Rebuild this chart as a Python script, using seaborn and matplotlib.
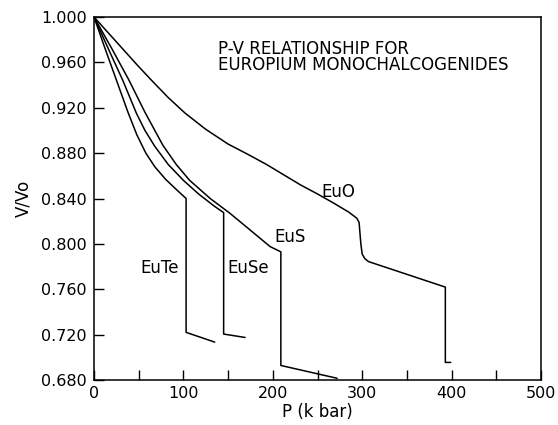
import matplotlib
matplotlib.use("Agg")
import matplotlib.pyplot as plt
from matplotlib.ticker import MultipleLocator, FormatStrFormatter
import numpy as np
import pandas as pd
import seaborn as sns

# Compression curves V/V0 versus pressure (kbar) for the europium monochalcogenides
eute_p = [0, 12, 25, 38, 48, 58, 68, 80, 92, 103, 103, 135]
eute_v = [1.000, 0.973, 0.9445, 0.916, 0.896, 0.880, 0.868, 0.857, 0.848, 0.840, 0.722, 0.7134]

euse_p = [0, 16, 32, 47.5, 57, 68, 83, 100, 117, 135, 145, 145, 169]
euse_v = [1.000, 0.972, 0.9445, 0.915, 0.900, 0.886, 0.870, 0.856, 0.844, 0.833, 0.8276, 0.7205, 0.7175]

eus_p = [0, 20, 39, 57, 77, 92, 107, 130, 152, 175, 197, 209, 209, 272]
eus_v = [1.000, 0.972, 0.9445, 0.916, 0.887, 0.870, 0.856, 0.840, 0.827, 0.812, 0.7976, 0.793, 0.6928, 0.6815]

euo_p = [0, 16, 32, 48, 64, 83, 102, 125, 150, 172, 193, 212, 231, 250, 268, 285, 294,
         296.5, 298.5, 300, 303, 307, 393, 393, 399]
euo_v = [1.000, 0.986, 0.972, 0.958, 0.9445, 0.929, 0.9152, 0.901, 0.888, 0.879, 0.870, 0.861,
         0.852, 0.844, 0.836, 0.828, 0.8226, 0.819, 0.800, 0.791, 0.787, 0.7844, 0.7619, 0.6955, 0.6955]

compounds = ["EuTe", "EuSe", "EuS", "EuO"]
label_pos = {"EuTe": (73.5, 0.779), "EuSe": (172.5, 0.779), "EuS": (219.5, 0.806), "EuO": (273.5, 0.846)}

y_ticks = [0.680, 0.720, 0.760, 0.800, 0.840, 0.880, 0.920, 0.960, 1.000]
x_ticks = [0, 100, 200, 300, 400, 500]

frames = []
for name, p, v in zip(compounds, [eute_p, euse_p, eus_p, euo_p], [eute_v, euse_v, eus_v, euo_v]):
    frames.append(pd.DataFrame({"P": p, "V": v, "compound": name, "order": np.arange(len(p))}))
df = pd.concat(frames, ignore_index=True)

sns.set_style("ticks")
plt.rcParams["font.family"] = ["DejaVu Sans"]
plt.rcParams["text.color"] = "black"
plt.rcParams["axes.labelcolor"] = "black"

fig = plt.figure(figsize=(5.58, 4.25), dpi=100)
ax = fig.add_axes([0.1685, 0.1059, 0.801, 0.854])

sns.lineplot(data=df, x="P", y="V", hue="compound", units="compound", estimator=None,
             sort=False, palette=["black"] * 4, linewidth=1.1, legend=False, ax=ax)

ax.set_xlim(0, 500)
ax.set_ylim(0.680, 1.000)
ax.set_xticks(x_ticks)
ax.xaxis.set_minor_locator(MultipleLocator(50))
ax.set_yticks(y_ticks)
ax.yaxis.set_major_formatter(FormatStrFormatter("%.3f"))

ax.tick_params(axis="both", which="both", direction="in", length=7, width=1.0,
               labelsize=11.5, colors="black", top=False, right=False)
ax.tick_params(axis="y", pad=5)
ax.tick_params(axis="x", pad=4)

for side in ["top", "right", "bottom", "left"]:
    ax.spines[side].set_visible(True)
    ax.spines[side].set_linewidth(1.1)
    ax.spines[side].set_color("black")

ax.set_xlabel("P (k bar)", fontsize=12, labelpad=2)
ax.set_ylabel("V/Vo", fontsize=12, labelpad=6)

for name in compounds:
    x, y = label_pos[name]
    ax.text(x, y, name, fontsize=12, ha="center", va="center")

ax.text(139, 0.972, "P-V RELATIONSHIP FOR", fontsize=12, ha="left", va="center")
ax.text(139, 0.9575, "EUROPIUM MONOCHALCOGENIDES", fontsize=12, ha="left", va="center")

fig.savefig("out.png", dpi=100, facecolor="white")
